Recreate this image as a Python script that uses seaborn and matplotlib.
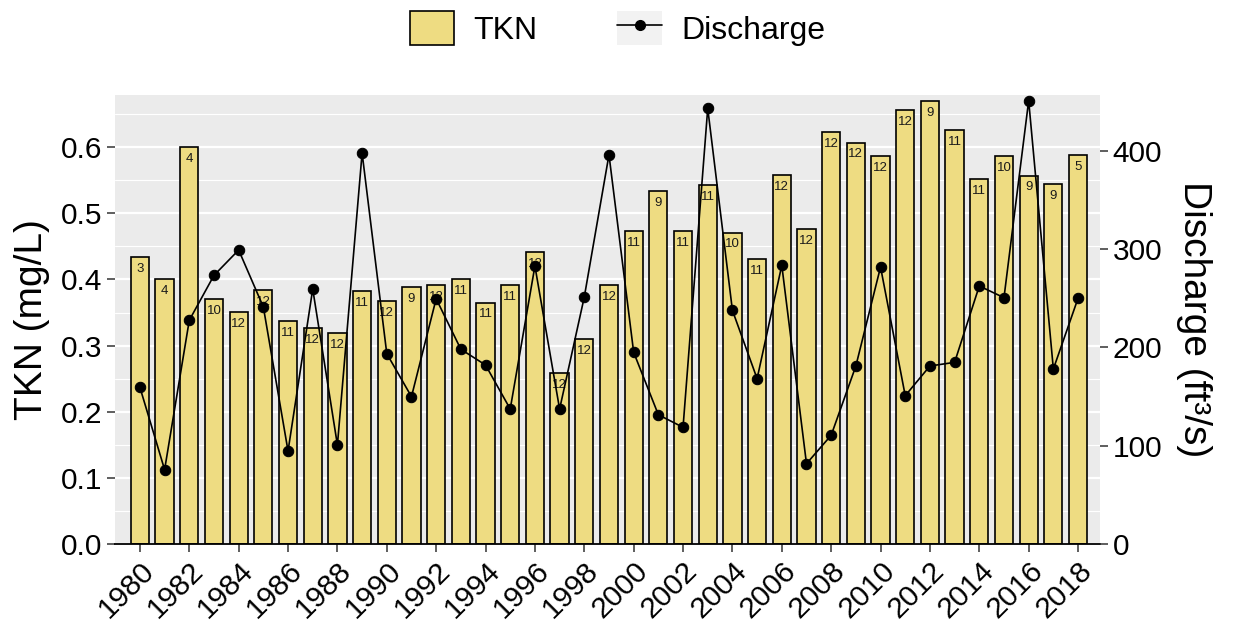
import pandas as pd
import matplotlib
matplotlib.use('Agg')
import matplotlib.pyplot as plt
import seaborn as sns
from matplotlib.patches import Patch
from matplotlib.lines import Line2D
from matplotlib.legend_handler import HandlerTuple
from matplotlib.ticker import MultipleLocator

# Annual TKN means, sample counts and mean discharge
years = list(range(1980, 2019))
tkn = [0.434, 0.400, 0.600, 0.370, 0.351, 0.384, 0.337, 0.326, 0.319, 0.382,
       0.367, 0.389, 0.392, 0.400, 0.365, 0.391, 0.442, 0.259, 0.310, 0.392,
       0.473, 0.534, 0.473, 0.543, 0.471, 0.431, 0.558, 0.476, 0.623, 0.607,
       0.587, 0.656, 0.670, 0.626, 0.552, 0.586, 0.557, 0.544, 0.588]
n_samples = [3, 4, 4, 10, 12, 12, 11, 12, 12, 11,
             12, 9, 12, 11, 11, 11, 12, 12, 12, 12,
             11, 9, 11, 11, 10, 11, 12, 12, 12, 12,
             12, 12, 9, 11, 11, 10, 9, 9, 5]
discharge = [159.4, 75.6, 227.6, 273.3, 299.1, 241.1, 94.6, 259.4, 100.7, 397.8,
             193.6, 149.9, 249.5, 198.1, 182.1, 137.3, 282.8, 137.3, 251.3, 396.0,
             195.0, 131.5, 118.7, 443.2, 237.7, 168.2, 283.5, 81.7, 110.6, 181.1,
             281.8, 150.9, 181.1, 184.8, 262.5, 250.6, 451.0, 178.0, 250.0]
year_ticks = years[::2]

df = pd.DataFrame({'year': years, 'tkn': tkn, 'n': n_samples, 'discharge': discharge})

barColor = '#EEDC82'

sns.set_style('darkgrid', {'axes.facecolor': '#EBEBEB', 'grid.color': 'white'})
plt.rcParams['font.family'] = ['Liberation Sans', 'DejaVu Sans']
plt.rcParams['text.color'] = 'black'
plt.rcParams['axes.labelcolor'] = 'black'

fig = plt.figure(figsize=(12.35, 6.25), dpi=100)
ax = fig.add_axes([0.0931, 0.1296, 0.8907 - 0.0931, 0.848 - 0.1296])

# bars for TKN
sns.barplot(data=df, x='year', y='tkn', native_scale=True, color=barColor,
            saturation=1, edgecolor='black', linewidth=1.2, width=0.74,
            errorbar=None, ax=ax, zorder=2)

# sample counts inside the bars
for yr, val, n in zip(years, tkn, n_samples):
    ax.annotate(str(n), (yr, val), xytext=(0, -8.5), textcoords='offset points',
                ha='center', va='center', fontsize=9.5, color='#1a1a1a', zorder=3)

ax.set_xlim(1978.99, 2018.89)
ax.set_ylim(0, 0.679)
ax.set_xticks(year_ticks)
ax.set_xticklabels([str(y) for y in year_ticks], rotation=45, ha='right',
                   va='top', rotation_mode='anchor')
ax.yaxis.set_major_locator(MultipleLocator(0.1))
ax.yaxis.set_minor_locator(MultipleLocator(0.05))
ax.yaxis.set_major_formatter(matplotlib.ticker.FormatStrFormatter('%.1f'))
ax.grid(False)
ax.grid(which='major', axis='y', color='white', linewidth=1.6)
ax.grid(which='minor', axis='y', color='white', linewidth=0.8)
ax.set_axisbelow(True)
ax.tick_params(axis='both', which='major', labelsize=21.5, length=6, width=1.1,
               color='#333333', labelcolor='black', pad=3)
ax.tick_params(which='minor', length=0)
ax.tick_params(axis='x', bottom=True)
ax.tick_params(axis='y', left=True)
for s in ['top', 'right', 'left']:
    ax.spines[s].set_visible(False)
ax.spines['bottom'].set_visible(True)
ax.spines['bottom'].set_color('black')
ax.spines['bottom'].set_linewidth(1.3)
ax.set_xlabel('')
ax.set_ylabel('TKN (mg/L)', fontsize=28, labelpad=8)

# discharge line on secondary axis
ax2 = ax.twinx()
sns.lineplot(data=df, x='year', y='discharge', ax=ax2, color='black',
             marker='o', markersize=7.5, markeredgecolor='black',
             linewidth=1.2, legend=False)
ax2.set_ylim(0, 456.8)
ax2.set_xlim(1978.99, 2018.89)
ax2.yaxis.set_major_locator(MultipleLocator(100))
ax2.grid(False)
ax2.patch.set_visible(False)
for s in ax2.spines.values():
    s.set_visible(False)
ax2.tick_params(axis='y', right=True, labelsize=21.5, length=6, width=1.1,
                color='#333333', labelcolor='black', pad=3)
ax2.set_ylabel('Discharge (ft³/s)', fontsize=28, rotation=270, labelpad=36)

handles = [Patch(facecolor=barColor, edgecolor='black', linewidth=1.2),
           (Patch(facecolor='#F2F2F2', edgecolor='none'),
            Line2D([], [], color='black', linewidth=1.2, marker='o', markersize=7))]
fig.legend(handles=handles, labels=['TKN', 'Discharge'],
           handler_map={tuple: HandlerTuple(ndivide=1)},
           loc='center', bbox_to_anchor=(0.5, 0.955), ncol=2, frameon=False,
           fontsize=23, handlelength=1.4, handleheight=1.3, handletextpad=0.6,
           columnspacing=2.5)

fig.savefig('out.png', dpi=100)
